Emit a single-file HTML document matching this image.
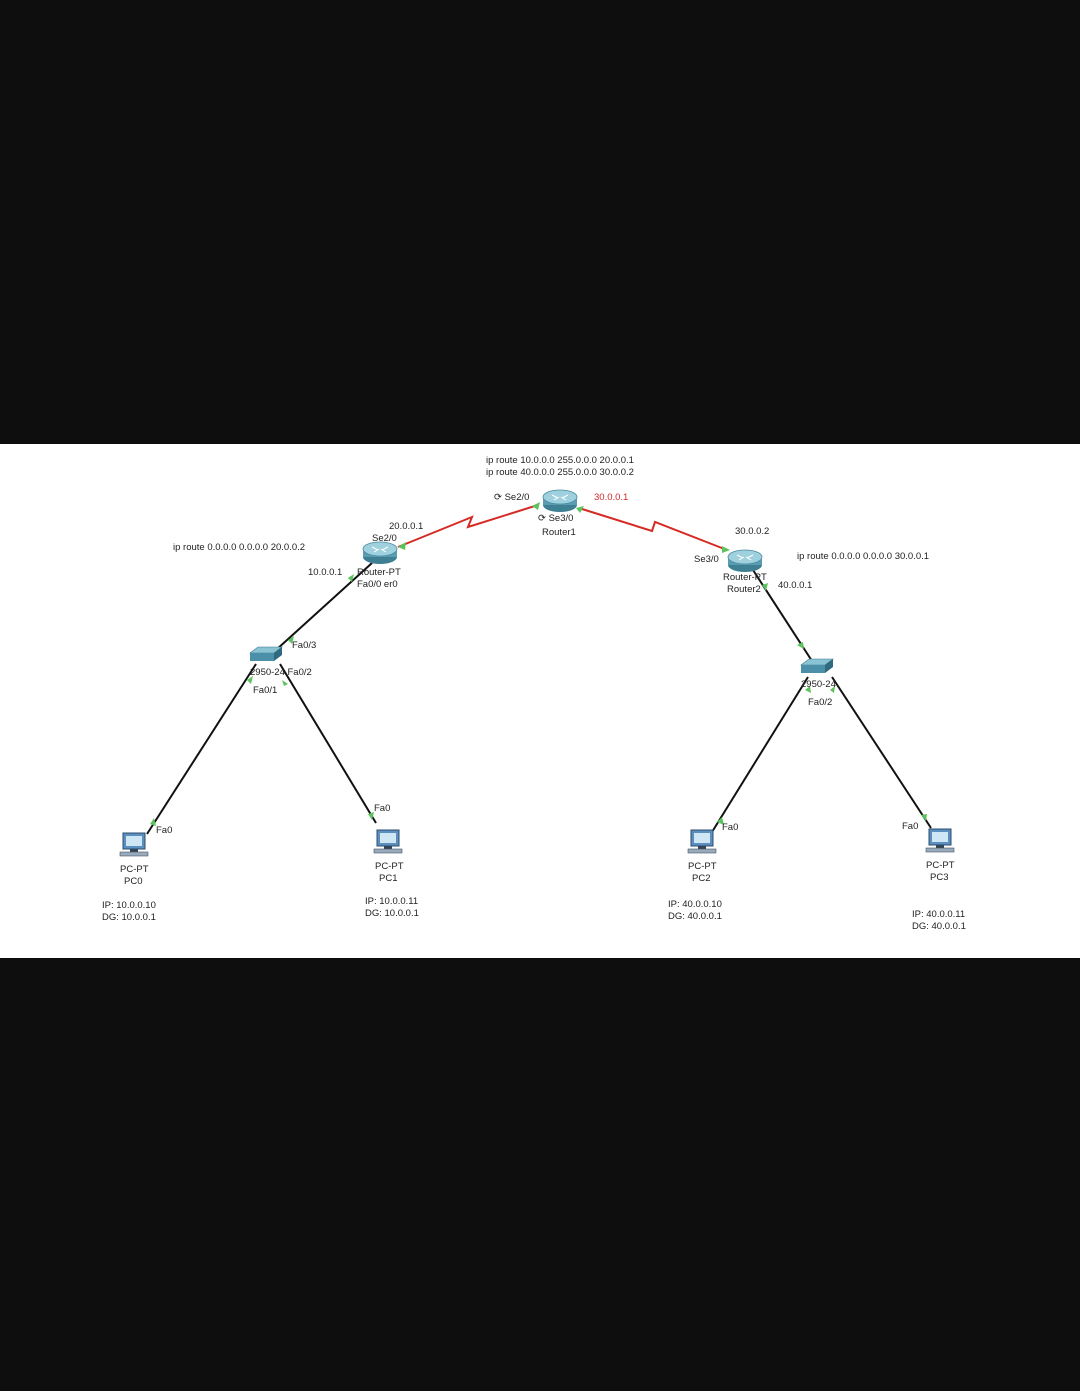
<!DOCTYPE html>
<html><head><meta charset="utf-8"><style>
html,body{margin:0;padding:0;background:#0e0e0e;}
svg{display:block}
text{font-family:"Liberation Sans",sans-serif;font-size:9.5px;fill:#222}
</style></head><body>
<svg width="1080" height="1391" viewBox="0 0 1080 1391">
<rect x="0" y="0" width="1080" height="1391" fill="#0e0e0e"/>
<rect x="0" y="444" width="1080" height="514" fill="#ffffff"/>
<defs>
<g id="router">
<ellipse cx="0" cy="6" rx="17" ry="7" fill="#3f7f94"/>
<rect x="-17" y="-2" width="34" height="8" fill="#5a9db3"/>
<ellipse cx="0" cy="-2" rx="17" ry="7" fill="#9fd0de" stroke="#4a8aa0" stroke-width="0.8"/>
<path d="M-8,-4 L-2,-1 M8,-4 L2,-1 M-6,1 L-1,-2 M6,1 L1,-2" stroke="#fff" stroke-width="1"/>
</g>
<g id="switch">
<polygon points="-14,-4 -6,-10 18,-10 10,-4" fill="#8ac3d4" stroke="#3d7b90" stroke-width="0.6"/>
<polygon points="-14,-4 10,-4 10,4 -14,4" fill="#4b90a8"/>
<polygon points="10,-4 18,-10 18,-2 10,4" fill="#2f6a80"/>
</g>
<g id="pc">
<rect x="-11" y="-13" width="22" height="16" fill="#5a8fbf" stroke="#2e4d6b" stroke-width="1"/>
<rect x="-8" y="-10" width="16" height="10" fill="#cfe6f5"/>
<rect x="-4" y="3" width="8" height="3" fill="#345"/>
<rect x="-14" y="6" width="28" height="4" fill="#9ab" stroke="#456" stroke-width="0.6"/>
</g>
</defs>
<!-- serial links -->
<path d="M398,547 L472,517 L468,527 L538,505" stroke="#d62a24" stroke-width="2" fill="none"/>
<path d="M582,509 L652,531 L655,522 L727,550" stroke="#d62a24" stroke-width="2" fill="none"/>
<!-- ethernet links -->
<g stroke="#111" stroke-width="2">
<line x1="372" y1="563" x2="276" y2="650"/>
<line x1="256" y1="664" x2="147" y2="834"/>
<line x1="280" y1="664" x2="376" y2="823"/>
<line x1="753" y1="570" x2="812" y2="661"/>
<line x1="808" y1="677" x2="712" y2="832"/>
<line x1="832" y1="677" x2="931" y2="828"/>
</g>
<!-- green markers -->
<g fill="#5cc35c">
<polygon points="398,547 406,542 405,550"/><polygon points="532,506 540,502 538,510"/>
<polygon points="576,508 584,506 580,513"/><polygon points="722,546 730,550 722,553"/>
<polygon points="348,578 354,574 352,582"/><polygon points="288,640 294,636 292,644"/>
<polygon points="247,680 253,676 251,684"/><polygon points="282,680 288,684 284,686"/>
<polygon points="150,824 154,818 156,826"/><polygon points="368,814 374,812 372,820"/>
<polygon points="762,585 768,583 766,591"/><polygon points="797,645 803,642 804,649"/>
<polygon points="805,690 810,686 811,693"/><polygon points="830,690 835,686 834,693"/>
<polygon points="717,822 722,817 724,825"/><polygon points="921,815 927,814 926,821"/>
</g>
<use href="#router" x="380" y="551"/>
<use href="#router" x="560" y="499"/>
<use href="#router" x="745" y="559"/>
<use href="#switch" x="264" y="657"/>
<use href="#switch" x="815" y="669"/>
<use href="#pc" x="134" y="846"/>
<use href="#pc" x="388" y="843"/>
<use href="#pc" x="702" y="843"/>
<use href="#pc" x="940" y="842"/>
<!-- labels -->
<text x="486" y="463">ip route 10.0.0.0 255.0.0.0 20.0.0.1</text>
<text x="486" y="475">ip route 40.0.0.0 255.0.0.0 30.0.0.2</text>
<text x="494" y="500">⟳ Se2/0</text>
<text x="594" y="500" style="fill:#d0282c">30.0.0.1</text>
<text x="538" y="521">⟳ Se3/0</text>
<text x="542" y="535">Router1</text>
<text x="389" y="529">20.0.0.1</text>
<text x="372" y="541">Se2/0</text>
<text x="173" y="550">ip route 0.0.0.0 0.0.0.0 20.0.0.2</text>
<text x="308" y="575">10.0.0.1</text>
<text x="357" y="575">Router-PT</text>
<text x="357" y="587">Fa0/0 er0</text>
<text x="292" y="648">Fa0/3</text>
<text x="250" y="675">2950-24 Fa0/2</text>
<text x="253" y="693">Fa0/1</text>
<text x="735" y="534">30.0.0.2</text>
<text x="694" y="562">Se3/0</text>
<text x="797" y="559">ip route 0.0.0.0 0.0.0.0 30.0.0.1</text>
<text x="723" y="580">Router-PT</text>
<text x="727" y="592">Router2</text>
<text x="778" y="588">40.0.0.1</text>
<text x="801" y="687">2950-24</text>
<text x="808" y="705">Fa0/2</text>
<text x="156" y="833">Fa0</text>
<text x="374" y="811">Fa0</text>
<text x="722" y="830">Fa0</text>
<text x="902" y="829">Fa0</text>
<text x="120" y="872">PC-PT</text><text x="124" y="884">PC0</text>
<text x="375" y="869">PC-PT</text><text x="379" y="881">PC1</text>
<text x="688" y="869">PC-PT</text><text x="692" y="881">PC2</text>
<text x="926" y="868">PC-PT</text><text x="930" y="880">PC3</text>
<text x="102" y="908">IP: 10.0.0.10</text><text x="102" y="920">DG: 10.0.0.1</text>
<text x="365" y="904">IP: 10.0.0.11</text><text x="365" y="916">DG: 10.0.0.1</text>
<text x="668" y="907">IP: 40.0.0.10</text><text x="668" y="919">DG: 40.0.0.1</text>
<text x="912" y="917">IP: 40.0.0.11</text><text x="912" y="929">DG: 40.0.0.1</text>
</svg>
</body></html>
